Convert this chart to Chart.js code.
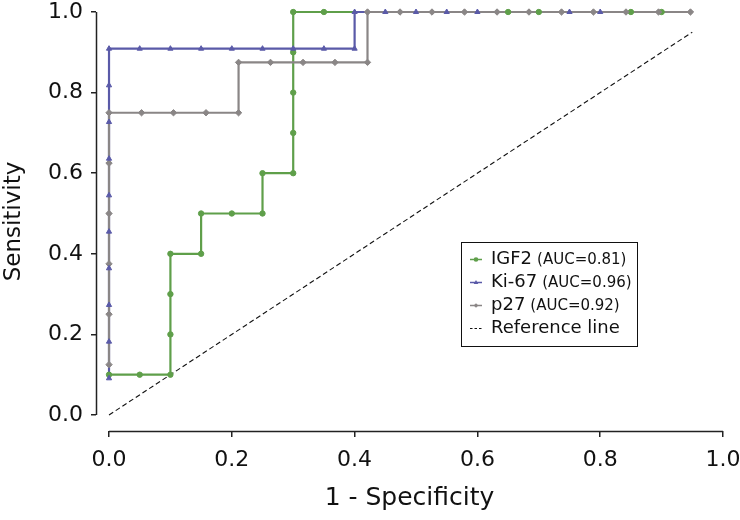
<!DOCTYPE html>
<html><head><meta charset="utf-8">
<script src="https://cdn.jsdelivr.net/npm/chart.js@4/dist/chart.umd.min.js"></script>
<style>html,body{margin:0;padding:0;background:#fff}</style>
</head><body>
<canvas id="c" width="740" height="520"></canvas>
<script>
// ---- data ----
const xTicks = [0, 0.2, 0.4, 0.6, 0.8, 1.0];
const yTicks = [0, 0.2, 0.4, 0.6, 0.8, 1.0];

const seriesNames = ['IGF2', 'Ki-67', 'p27'];
const aucLabels = ['(AUC=0.81)', '(AUC=0.96)', '(AUC=0.92)'];
const refName = 'Reference line';

const igf2FPR = [0, 0.05, 0.10, 0.10, 0.10, 0.10, 0.15, 0.15, 0.20, 0.25, 0.25, 0.30, 0.30, 0.30, 0.30, 0.30, 0.35, 0.65, 0.70, 0.85, 0.90];
const igf2TPR = [0.1, 0.1, 0.1, 0.2, 0.3, 0.4, 0.4, 0.5, 0.5, 0.5, 0.6, 0.6, 0.7, 0.8, 0.9, 1.0, 1.0, 1.0, 1.0, 1.0, 1.0];

const ki67FPR = [0, 0, 0, 0, 0, 0, 0, 0, 0, 0, 0.05, 0.10, 0.15, 0.20, 0.25, 0.30, 0.35, 0.40, 0.40, 0.45, 0.50, 0.55, 0.60, 0.75, 0.80];
const ki67TPR = [0.091, 0.182, 0.273, 0.364, 0.455, 0.545, 0.636, 0.727, 0.818, 0.909, 0.909, 0.909, 0.909, 0.909, 0.909, 0.909, 0.909, 0.909, 1.0, 1.0, 1.0, 1.0, 1.0, 1.0, 1.0];

const p27FPR = [0, 0, 0, 0, 0, 0, 0.053, 0.105, 0.158, 0.211, 0.211, 0.263, 0.316, 0.368, 0.421, 0.421, 0.474, 0.526, 0.579, 0.632, 0.684, 0.737, 0.789, 0.842, 0.895, 0.947];
const p27TPR = [0.125, 0.25, 0.375, 0.5, 0.625, 0.75, 0.75, 0.75, 0.75, 0.75, 0.875, 0.875, 0.875, 0.875, 0.875, 1.0, 1.0, 1.0, 1.0, 1.0, 1.0, 1.0, 1.0, 1.0, 1.0, 1.0];

const refX = [0, 0.95];
const refY = [0, 0.95];

// ---- styles ----
const GREEN = '#5f9f4a', BLUE = '#5a5aa8', GRAY = '#8a8686';
const FONT = 'DejaVu Sans';
const pts = (xs, ys) => xs.map((x, i) => ({x: x, y: ys[i]}));

function lineDs(data, color, order) {
  return {data, borderColor: color, backgroundColor: color, borderWidth: 2.2, pointRadius: 0,
          showLine: true, order, clip: false};
}
function pointDs(data, color, style, r, order) {
  return {data, borderColor: color, backgroundColor: color, showLine: false, pointStyle: style,
          pointRadius: r, pointBorderWidth: 1, pointHoverRadius: r, order, clip: false};
}

const axisLines = {
  id: 'axisLines',
  beforeDatasetsDraw(chart) {
    const {ctx, chartArea, scales: {x, y}} = chart;
    ctx.save();
    ctx.strokeStyle = '#222'; ctx.lineWidth = 1.5;
    ctx.beginPath();
    ctx.moveTo(x.getPixelForValue(xTicks[0]), chartArea.bottom + 0.5);
    ctx.lineTo(x.getPixelForValue(xTicks[xTicks.length - 1]), chartArea.bottom + 0.5);
    ctx.moveTo(chartArea.left + 0.5, y.getPixelForValue(yTicks[0]));
    ctx.lineTo(chartArea.left + 0.5, y.getPixelForValue(yTicks[yTicks.length - 1]));
    ctx.stroke();
    ctx.restore();
  }
};

function marker(ctx, style, cx, cy, r) {
  ctx.beginPath();
  if (style === 'circle') ctx.arc(cx, cy, r, 0, Math.PI * 2);
  else if (style === 'triangle') { ctx.moveTo(cx, cy - r * 1.1); ctx.lineTo(cx + r, cy + r * 0.7); ctx.lineTo(cx - r, cy + r * 0.7); ctx.closePath(); }
  else { ctx.moveTo(cx, cy - r); ctx.lineTo(cx + r, cy); ctx.lineTo(cx, cy + r); ctx.lineTo(cx - r, cy); ctx.closePath(); }
  ctx.fill();
}

const legendBox = {
  id: 'legendBox',
  afterDraw(chart) {
    const ctx = chart.ctx;
    const bx = 461.5, by = 242.5, bw = 176, bh = 104;
    ctx.save();
    ctx.fillStyle = '#fff'; ctx.fillRect(bx, by, bw, bh);
    ctx.strokeStyle = '#111'; ctx.lineWidth = 1; ctx.strokeRect(bx, by, bw, bh);
    const cols = [GREEN, BLUE, GRAY], styles = ['circle', 'triangle', 'rectRot'];
    ctx.textBaseline = 'middle';
    for (let i = 0; i < 3; i++) {
      const yy = 259.5 + i * 23;
      ctx.strokeStyle = cols[i]; ctx.fillStyle = cols[i]; ctx.lineWidth = 1.5;
      ctx.beginPath(); ctx.moveTo(470, yy); ctx.lineTo(482, yy); ctx.stroke();
      marker(ctx, styles[i], 476, yy, 2.3);
      ctx.fillStyle = '#111';
      ctx.font = '18px "' + FONT + '"';
      ctx.fillText(seriesNames[i], 491, yy);
      const w = ctx.measureText(seriesNames[i]).width;
      ctx.font = '15px "' + FONT + '"';
      ctx.fillText(aucLabels[i], 491 + w + 5, yy + 1);
    }
    const yr = 259.5 + 3 * 23;
    ctx.strokeStyle = '#111'; ctx.lineWidth = 1; ctx.setLineDash([2.5, 2]);
    ctx.beginPath(); ctx.moveTo(470, yr); ctx.lineTo(482, yr); ctx.stroke();
    ctx.setLineDash([]);
    ctx.font = '18px "' + FONT + '"';
    ctx.fillText(refName, 491, yr);
    ctx.restore();
  }
};

new Chart(document.getElementById('c'), {
  type: 'scatter',
  data: {
    datasets: [
      Object.assign(lineDs(pts(refX, refY), '#111', 14), {borderWidth: 1.1, borderDash: [5, 3]}),
      lineDs(pts(igf2FPR, igf2TPR), GREEN, 13),
      lineDs(pts(ki67FPR, ki67TPR), BLUE, 12),
      lineDs(pts(p27FPR, p27TPR), GRAY, 11),
      pointDs(pts(igf2FPR, igf2TPR), GREEN, 'circle', 2.7, 3),
      pointDs(pts(p27FPR, p27TPR), GRAY, 'rectRot', 3.2, 2),
      pointDs(pts(ki67FPR, ki67TPR), BLUE, 'triangle', 3, 1)
    ]
  },
  options: {
    responsive: false,
    animation: false,
    events: [],
    layout: {padding: 0},
    plugins: {legend: {display: false}, tooltip: {enabled: false}},
    scales: {
      x: {
        type: 'linear', min: -0.0212, max: 1,
        afterBuildTicks: s => { s.ticks = xTicks.map(v => ({value: v})); },
        afterFit: s => { s.height = 89; s.paddingLeft = 0; s.paddingRight = 17; },
        ticks: {font: {family: FONT, size: 22}, color: '#111', padding: 10, maxRotation: 0, autoSkip: false,
                callback: v => v.toFixed(1)},
        grid: {drawOnChartArea: false, drawTicks: true, tickLength: 6, color: '#222', lineWidth: 1.5},
        border: {display: false},
        title: {display: true, text: '1 - Specificity', font: {family: FONT, size: 25}, color: '#111',
                padding: {top: 0, bottom: 7}}
      },
      y: {
        type: 'linear', min: -0.0397, max: 1,
        afterBuildTicks: s => { s.ticks = yTicks.map(v => ({value: v})); },
        afterFit: s => { s.width = 96; s.paddingTop = 12; s.paddingBottom = 0; },
        ticks: {font: {family: FONT, size: 22}, color: '#111', padding: 8, autoSkip: false,
                callback: v => v.toFixed(1)},
        grid: {drawOnChartArea: false, drawTicks: true, tickLength: 5, color: '#222', lineWidth: 1.5},
        border: {display: false},
        title: {display: true, text: 'Sensitivity', font: {family: FONT, size: 23}, color: '#111',
                padding: {top: 0, bottom: 0}}
      }
    }
  },
  plugins: [axisLines, legendBox]
});
</script>
</body></html>
